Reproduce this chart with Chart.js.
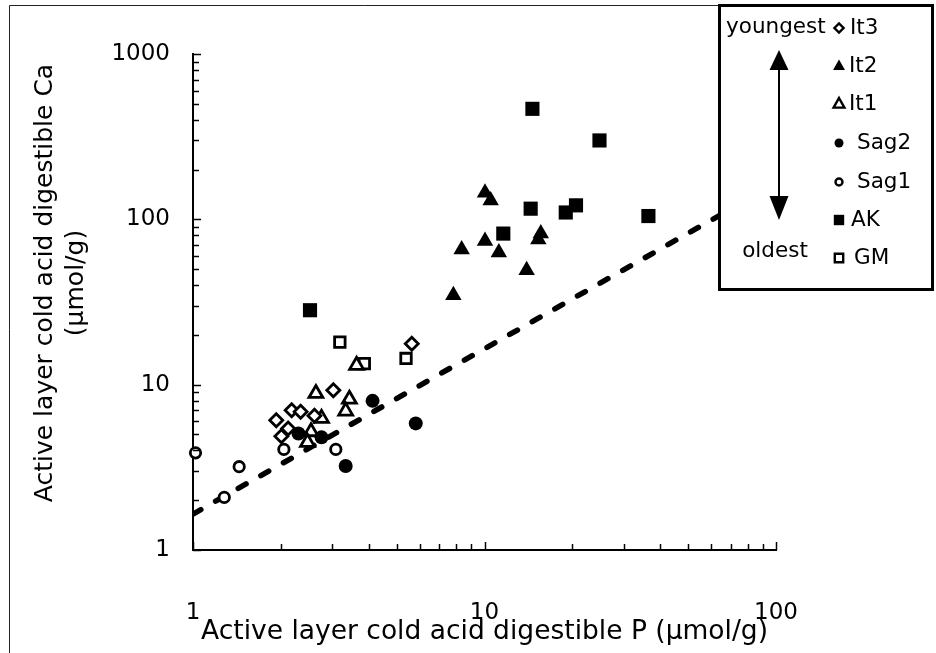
<!DOCTYPE html>
<html>
<head>
<meta charset="utf-8">
<script src="https://cdn.jsdelivr.net/npm/chart.js@4.4.1/dist/chart.umd.min.js"></script>
<style>
html,body{margin:0;padding:0;background:#fff;}
#wrap{width:936px;height:653px;position:relative;}
</style>
</head>
<body>
<div id="wrap"><canvas id="c" width="936" height="653"></canvas></div>
<script>
// ---------------- DATA ----------------
const seriesNames = ['It3', 'It2', 'It1', 'Sag2', 'Sag1', 'AK', 'GM'];

const it3P  = [5.63, 3.03, 2.18, 2.34, 1.93, 2.12, 2.01, 2.61];
const it3Ca = [17.7, 9.26, 7.01, 6.85, 6.10, 5.43, 4.88, 6.48];

const it2P  = [10.04, 10.5, 10.04, 8.35, 11.2, 15.6, 15.3, 13.95, 7.82];
const it2Ca = [145, 130, 74, 65.6, 62.9, 82, 75.4, 49.2, 34.7];

const it1P  = [2.64, 3.44, 3.34, 2.76, 2.54, 2.47, 3.64];
const it1Ca = [8.85, 8.17, 6.92, 6.25, 5.19, 4.48, 13.1];

const sag2P  = [4.13, 5.81, 2.30, 2.76, 3.34];
const sag2Ca = [7.98, 5.83, 5.07, 4.80, 3.22];

const sag1P  = [1.02, 1.44, 1.28, 2.05, 3.09];
const sag1Ca = [3.87, 3.19, 2.08, 4.06, 4.06];

const akP  = [2.52, 14.6, 24.8, 14.4, 20.6, 19.0, 36.5, 11.6];
const akCa = [28.2, 466, 300, 116, 121.5, 110, 104.7, 82];

const gmP  = [3.19, 3.87, 5.38];
const gmCa = [18.1, 13.4, 14.4];

const fitP  = [1, 100];
const fitCa = [1.65, 165];

const xTickValues = [1, 10, 100];
const yTickValues = [1, 10, 100, 1000];

const xTitle = 'Active layer cold acid digestible P (\u03bcmol/g)';
const yTitle = ['Active layer cold acid digestible Ca', '(\u03bcmol/g)'];
const legendTopText = 'youngest';
const legendBottomText = 'oldest';

// ---------------- STYLE ----------------
const FONT = '"DejaVu Sans", "Liberation Sans", sans-serif';
const seriesStyle = {
  It3:  {shape: 'rectRot',  fill: false, r: 6.5, lr: 4.6},
  It2:  {shape: 'triangle', fill: true,  r: 9.5, lr: 6.6},
  It1:  {shape: 'triangle', fill: false, r: 8,   lr: 6},
  Sag2: {shape: 'circle',   fill: true,  r: 7,   lr: 4.5},
  Sag1: {shape: 'circle',   fill: false, r: 5.2, lr: 3.5},
  AK:   {shape: 'rect',     fill: true,  r: 10,  lr: 5.2},
  GM:   {shape: 'rect',     fill: false, r: 7.4, lr: 4.2}
};

const pairs = (P, C) => P.map((p, i) => ({x: p, y: C[i]}));
const seriesData = {
  It3: pairs(it3P, it3Ca), It2: pairs(it2P, it2Ca), It1: pairs(it1P, it1Ca),
  Sag2: pairs(sag2P, sag2Ca), Sag1: pairs(sag1P, sag1Ca),
  AK: pairs(akP, akCa), GM: pairs(gmP, gmCa)
};

const datasets = seriesNames.map(name => {
  const s = seriesStyle[name];
  return {
    label: name,
    data: seriesData[name],
    pointStyle: s.shape,
    pointRadius: s.r,
    pointHoverRadius: s.r,
    backgroundColor: s.fill ? '#000' : '#fff',
    borderColor: '#000',
    pointBorderWidth: s.fill ? 0 : 2.8,
    borderWidth: s.fill ? 0 : 2.8,
    clip: false,
    order: 0
  };
});
datasets.push({
  label: 'fit',
  data: pairs(fitP, fitCa),
  showLine: true,
  pointRadius: 0,
  borderColor: '#000',
  borderWidth: 5.5,
  borderDash: [9, 17],
  borderCapStyle: 'round',
  fill: false,
  order: 1
});

// ---------------- PLUGINS ----------------
const minorTicks = {
  id: 'minorTicks',
  afterDraw(chart) {
    const {ctx, chartArea: a, scales: {x, y}} = chart;
    ctx.save();
    ctx.strokeStyle = '#000';
    ctx.lineWidth = 1.5;
    const vals = (min, max) => {
      const out = [];
      for (let e = Math.round(Math.log10(min)); 10 ** e <= max; e++) {
        for (let d = 1; d <= 9; d++) { const v = d * 10 ** e; if (v <= max + 1e-9) out.push([v, d === 1]); }
      }
      return out;
    };
    vals(x.min, x.max).forEach(([v, major]) => {
      const px = Math.round(x.getPixelForValue(v)) + 0.5;
      ctx.beginPath(); ctx.moveTo(px, a.bottom); ctx.lineTo(px, a.bottom - (major ? 8 : 6)); ctx.stroke();
    });
    vals(y.min, y.max).forEach(([v, major]) => {
      const py = Math.round(y.getPixelForValue(v)) + 0.5;
      ctx.beginPath(); ctx.moveTo(a.left, py); ctx.lineTo(a.left + (major ? 8 : 6), py); ctx.stroke();
    });
    // y axis title (two lines, rotated)
    ctx.fillStyle = '#000';
    ctx.font = '25px ' + FONT;
    ctx.textAlign = 'center';
    ctx.textBaseline = 'middle';
    const titleX = [45, 76];
    yTitle.forEach((t, i) => {
      ctx.save();
      ctx.translate(titleX[i], 283);
      ctx.rotate(-Math.PI / 2);
      ctx.fillText(t, 0, 0);
      ctx.restore();
    });
    ctx.restore();
  }
};

function drawMarker(ctx, shape, fill, r, cx, cy) {
  ctx.beginPath();
  if (shape === 'circle') {
    ctx.arc(cx, cy, r, 0, Math.PI * 2);
  } else if (shape === 'rect') {
    ctx.rect(cx - r, cy - r, 2 * r, 2 * r);
  } else if (shape === 'rectRot') {
    ctx.moveTo(cx - r, cy); ctx.lineTo(cx, cy - r); ctx.lineTo(cx + r, cy); ctx.lineTo(cx, cy + r); ctx.closePath();
  } else if (shape === 'triangle') {
    ctx.moveTo(cx, cy - r); ctx.lineTo(cx + r * 0.9, cy + r * 0.6); ctx.lineTo(cx - r * 0.9, cy + r * 0.6); ctx.closePath();
  }
  if (fill) { ctx.fillStyle = '#000'; ctx.fill(); }
  else { ctx.fillStyle = '#fff'; ctx.fill(); ctx.lineWidth = 2.4; ctx.strokeStyle = '#000'; ctx.stroke(); }
}

const legendBox = {
  id: 'legendBox',
  afterDraw(chart) {
    const ctx = chart.ctx;
    ctx.save();
    // figure frame
    ctx.strokeStyle = '#222';
    ctx.lineWidth = 1;
    ctx.beginPath();
    ctx.moveTo(9.5, 653); ctx.lineTo(9.5, 5.5); ctx.lineTo(720, 5.5);
    ctx.stroke();
    // legend box
    ctx.fillStyle = '#fff';
    ctx.fillRect(719, 5, 214, 285);
    ctx.strokeStyle = '#000';
    ctx.lineWidth = 3;
    ctx.strokeRect(719.5, 5.5, 213, 284);
    // texts
    ctx.fillStyle = '#000';
    ctx.font = '21.5px ' + FONT;
    ctx.textBaseline = 'middle';
    ctx.textAlign = 'left';
    ctx.fillText(legendTopText, 726, 27);
    ctx.textAlign = 'center';
    ctx.fillText(legendBottomText, 775, 251);
    // arrow
    ctx.lineWidth = 2;
    ctx.beginPath(); ctx.moveTo(779, 66); ctx.lineTo(779, 200); ctx.stroke();
    ctx.beginPath(); ctx.moveTo(779, 50); ctx.lineTo(788.5, 70); ctx.lineTo(769.5, 70); ctx.closePath(); ctx.fill();
    ctx.beginPath(); ctx.moveTo(779, 220); ctx.lineTo(788.5, 196); ctx.lineTo(769.5, 196); ctx.closePath(); ctx.fill();
    // entries
    const rowsY = [28, 66, 104, 143, 182, 220, 258];
    const labelX = [850, 849, 849, 857, 857, 851, 854];
    seriesNames.forEach((name, i) => {
      const s = seriesStyle[name];
      drawMarker(ctx, s.shape, s.fill, s.lr, 839, rowsY[i]);
      ctx.fillStyle = '#000';
      ctx.textAlign = 'left';
      ctx.fillText(name, labelX[i], rowsY[i]);
    });
    ctx.restore();
  }
};

// ---------------- CHART ----------------
new Chart(document.getElementById('c').getContext('2d'), {
  type: 'scatter',
  data: {datasets},
  options: {
    responsive: false,
    animation: false,
    devicePixelRatio: 1,
    layout: {padding: {left: 0, top: 54, right: 160, bottom: 0}},
    plugins: {legend: {display: false}, tooltip: {enabled: false}},
    scales: {
      x: {
        type: 'logarithmic', position: 'bottom', min: 1, max: 100,
        grid: {display: false, drawTicks: false},
        border: {display: true, color: '#000', width: 2},
        ticks: {color: '#000', font: {family: FONT, size: 23}, padding: 49, maxRotation: 0, autoSkip: false,
                callback: v => String(v)},
        afterBuildTicks: s => { s.ticks = xTickValues.map(v => ({value: v})); },
        afterFit: s => { s.height = 103; },
        title: {display: true, text: xTitle, color: '#000', font: {family: FONT, size: 26.5}, padding: {top: 0, bottom: 5}}
      },
      y: {
        type: 'logarithmic', position: 'left', min: 1, max: 1000,
        grid: {display: false, drawTicks: false},
        border: {display: true, color: '#000', width: 2},
        ticks: {color: '#000', font: {family: FONT, size: 23}, padding: 23, autoSkip: false,
                callback: v => String(v)},
        afterBuildTicks: s => { s.ticks = yTickValues.map(v => ({value: v})); },
        afterFit: s => { s.width = 193; },
        title: {display: false}
      }
    }
  },
  plugins: [minorTicks, legendBox]
});
</script>
</body>
</html>
